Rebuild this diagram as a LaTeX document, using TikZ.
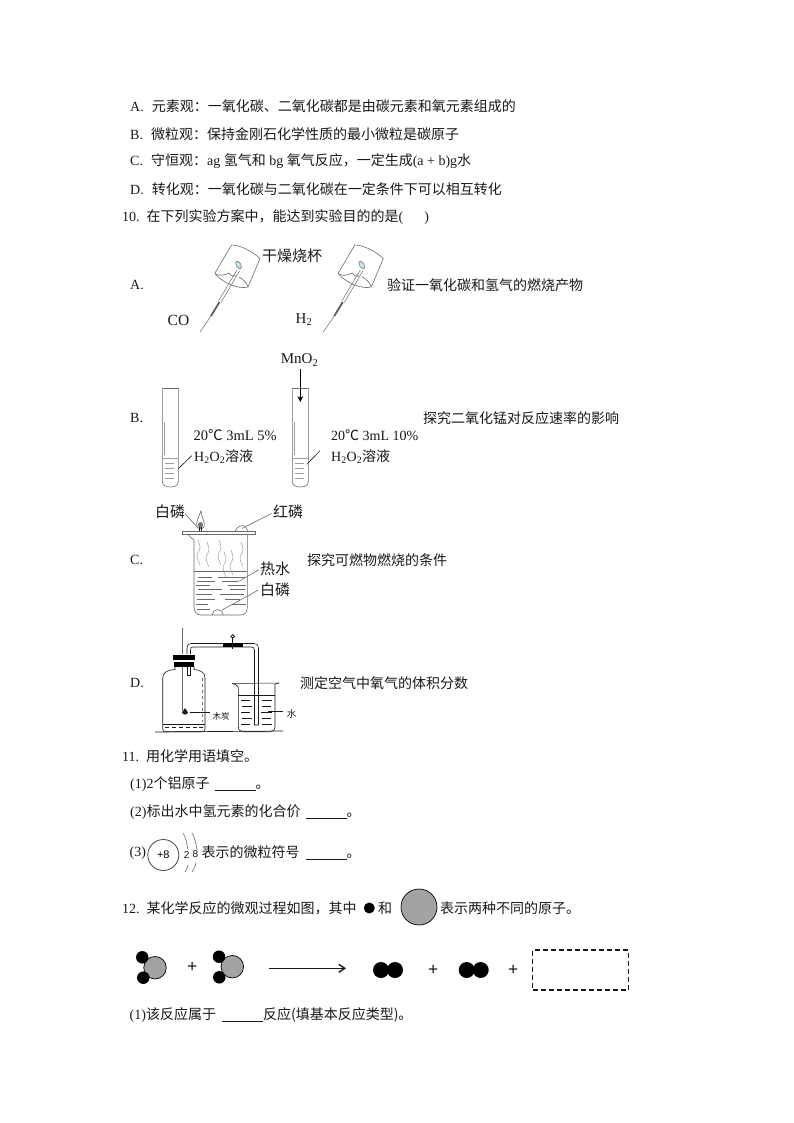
\documentclass[tikz,border=0pt]{standalone}
\usetikzlibrary{arrows.meta}
\usepackage{fontspec}
\setmainfont{Liberation Serif}
\newfontfamily\zhf{Noto Sans CJK SC}
\newcommand{\zh}[1]{{\zhf #1}}
\newcommand{\blank}[1]{\rule[-2.5pt]{#1pt}{0.8pt}}
\definecolor{ink}{gray}{0.1}
\definecolor{ln}{gray}{0.42}
\definecolor{ml}{gray}{0.62}
\definecolor{atom}{gray}{0.64}
\tikzset{
 x=1pt,y=-1pt,
 body/.style={anchor=west,inner sep=0pt,font=\fontsize{14}{14}\selectfont,text=ink},
 lab/.style={anchor=west,inner sep=0pt,font=\fontsize{15}{15}\selectfont,text=ink},
 small/.style={anchor=center,inner sep=0pt,font=\fontsize{8.5}{9}\selectfont,text=ink},
 glass/.style={draw=ln,line width=0.6pt},
 lead/.style={draw=ink,line width=0.6pt},
 blackatom/.style={circle,fill=black,inner sep=0pt},
 grayatom/.style={circle,fill=atom,draw=black,line width=0.7pt,inner sep=0pt},
 plus/.style={inner sep=0pt,font=\fontsize{18}{18}\selectfont\bfseries,text=ink},
}
\newcommand{\cupburner}[1]{%
\begin{scope}[shift={(#1,0)}]
 \draw[glass] (215,273) -- (231.5,245) .. controls (240,245) and (252,251) .. (260,258.5) -- (248,287);
 \draw[glass] (215,273.5) .. controls (218,276) and (224,276) .. (229,273) .. controls (231,276) and (234,277) .. (236,276);
 \draw[glass] (215,273.5) .. controls (220,281) and (238,290) .. (248,287);
 \draw[glass] (248,287) .. controls (247,283) and (243,279) .. (239,277);
 \filldraw[draw=ln,fill=gray!35!cyan!30!white,line width=0.5pt,rotate around={-60:(238.5,265)}] (238.5,265) ellipse (4.2 and 2.3);
 \draw[ln,line width=0.5pt] (237,270) -- (218.5,301);
 \draw[ln,line width=0.5pt] (239.5,271) -- (221,302.5);
 \draw[ink!70,line width=1.8pt] (219.5,302) -- (211,316);
 \draw[ln,line width=0.5pt] (211,316) -- (200,332);
\end{scope}}
\newcommand{\testtube}[1]{%
\begin{scope}[shift={(#1,0)}]
 \draw[glass] (162.3,389.5) -- (162.3,481) .. controls (162.3,485) and (165,487) .. (170.3,487) .. controls (175.6,487) and (178.3,485) .. (178.3,481) -- (178.3,389.5);
 \draw[ln,line width=1pt] (161.5,388.5) -- (179.3,388.5);
 \draw[ml,line width=0.8pt] (164.8,422) -- (164.8,455);
 \draw[ml,line width=0.6pt] (163,458) -- (177.5,458);
 \foreach \yy in {463,468,473,478}{\draw[ml,line width=0.6pt] (165,\yy) -- (174,\yy);}
\end{scope}}
\begin{document}
\begin{tikzpicture}
\useasboundingbox (0,0) rectangle (794,1123);
\fill[white] (0,0) rectangle (794,1123);
% text lines
\node[body] (a1) at (130,106) {A.\hspace{8pt}\zh{元素观：一氧化碳、二氧化碳都是由碳元素和氧元素组成的}};
\node[body] (b1) at (130,134) {B.\hspace{8pt}\zh{微粒观：保持金刚石化学性质的最小微粒是碳原子}};
\node[body] (c1) at (130,161) {C.\hspace{8pt}\zh{守恒观：}ag \zh{氢气和} bg \zh{氧气反应，一定生成}(a + b)g\zh{水}};
\node[body] (d1) at (130,189) {D.\hspace{8pt}\zh{转化观：一氧化碳与二氧化碳在一定条件下可以相互转化}};
\node[body] (q10) at (122,217) {10.\ \ \zh{在下列实验方案中，能达到实验目的的是}(\ \ \ \ \ \ )};
\node[body] (optA) at (130,285) {A.};
\node[body] (txtA) at (387,285) {\zh{验证一氧化碳和氢气的燃烧产物}};
\node[body] (optB) at (130,418) {B.};
\node[body] (txtB) at (423,418) {\zh{探究二氧化锰对反应速率的影响}};
\node[body] (optC) at (130,560) {C.};
\node[body] (txtC) at (307,560) {\zh{探究可燃物燃烧的条件}};
\node[body] (optD) at (130,683) {D.};
\node[body] (txtD) at (300,683) {\zh{测定空气中氧气的体积分数}};
\node[body] (q11) at (122,756) {11.\ \ \zh{用化学用语填空。}};
\node[body] (q111) at (130,784) {(1)2\zh{个铝原子}\hspace{5pt}\blank{41}\zh{。}};
\node[body] (q112) at (130,812) {(2)\zh{标出水中氢元素的化合价}\hspace{5pt}\blank{41}\zh{。}};
\node[body] (q113a) at (129.5,853) {(3)};
\node[body] (q113b) at (201.5,853) {\zh{表示的微粒符号}\hspace{6pt}\blank{41}\zh{。}};
\node[body] (q12a) at (122,908) {12.\ \ \zh{某化学反应的微观过程如图，其中}};
\node[body] (q12b) at (378,908) {\zh{和}};
\node[body] (q12c) at (440,908) {\zh{表示两种不同的原子。}};
\node[body] (q121) at (129.5,1015) {(1)\zh{该反应属于}\hspace{6pt}\blank{41}\zh{反应(填基本反应类型)。}};
% A
\cupburner{0}
\cupburner{123.3}
\node[lab] (cup) at (262,256) {\zh{干燥烧杯}};
\node[lab,font=\fontsize{15.5}{16}\selectfont] (co) at (167.5,320) {CO};
\node[lab] (h2) at (295.5,320) {H\textsubscript{2}};
% B
\testtube{0}
\testtube{130}
\node[lab] (mno) at (280.7,360) {MnO\textsubscript{2}};
\coordinate (arrS) at (300.3,369);
\coordinate (arrE) at (300.3,402);
\draw[-{Stealth[length=6pt,width=6pt]},line width=0.9pt,black] (arrS) -- (arrE);
\node[lab,font=\fontsize{14.5}{15}\selectfont] (c1l) at (193.5,435) {20\zh{℃} 3mL 5\%};
\node[lab,font=\fontsize{14}{15}\selectfont] (s1l) at (194,456.5) {H\textsubscript{2}O\textsubscript{2}\zh{溶液}};
\node[lab,font=\fontsize{14}{15}\selectfont] (c2l) at (331,435) {20\zh{℃} 3mL 10\%};
\node[lab,font=\fontsize{14}{15}\selectfont] (s2l) at (331,456.5) {H\textsubscript{2}O\textsubscript{2}\zh{溶液}};
\draw[lead] (178,469) -- (191.7,455.7);
\draw[lead] (306.7,464.3) -- (320,450.7);
% C
\draw[glass] (182.5,531.5) rectangle (255,534.3);
\draw[glass] (188,534.5) .. controls (190,537) and (192,538) .. (194,540) -- (194,607) .. controls (194,612) and (197,615) .. (201,615) -- (241,615) .. controls (245,615) and (247.3,612) .. (247.3,607) -- (247.3,534.5);
\draw[glass] (194,571.7) -- (247.3,571.7);
\foreach \ya/\xa/\xb in {577/198/212,577/218/245,581/197/215,581/222/238,585/196/210,585/228/246,589/198/222,589/230/245,594/196/212,594/220/244,599/197/215,599/225/240,604/196/208,604/232/246,609/197/210}{\draw[ln,line width=0.5pt] (\xa,\ya) -- (\xb,\ya);}
\draw[ln,line width=0.6pt] (212.2,615) arc[start angle=180,end angle=360,radius=5.5];
\foreach \px/\py in {198/540,207/542,219/540,224/552,231/550,241/542}{
 \draw[ml,line width=0.5pt] plot[smooth] coordinates {(\px,\py) (\px+2,\py+8) (\px-1,\py+16) (\px+2,\py+25)};}
% candle flame
\draw[ln,line width=0.6pt] (201,510.5) .. controls (199,517) and (195.5,522) .. (197,527) .. controls (198,529) and (203,529) .. (204,527) .. controls (205.5,522) and (201.5,518) .. (201,510.5);
\fill[ink!60] (200.5,525) ellipse (2.6 and 3);
\draw[ink,line width=0.8pt] (199.5,531) -- (199.5,527) (201.5,531) -- (201.5,527);
% red P
\draw[ln,line width=0.6pt] (235,531) .. controls (238,526) and (241,525) .. (245,526) -- (248,531);
\node[lab] (wp1) at (155,511.5) {\zh{白磷}};
\node[lab] (rp) at (273,511.5) {\zh{红磷}};
\node[lab] (hw) at (260,569) {\zh{热水}};
\node[lab] (wp2) at (260,590) {\zh{白磷}};
\coordinate (l1) at (185,513.5); \coordinate (l1e) at (197,527);
\coordinate (l2) at (271.5,513.5); \coordinate (l2e) at (242,528.5);
\coordinate (l3) at (258.5,570); \coordinate (l3e) at (238.5,581.5);
\coordinate (l4) at (258.5,590); \coordinate (l4e) at (222,610);
\draw[lead,draw=ln] (l1)--(l1e) (l2)--(l2e) (l3)--(l3e) (l4)--(l4e);
% D bottle
\draw[ink,line width=0.6pt] (175,666.5) -- (175,669.5) .. controls (168,670) and (162.7,672) .. (162.7,678) -- (162.7,729) .. controls (162.7,731) and (164,731.7) .. (166,731.7) -- (202,731.7) .. controls (204,731.7) and (205,731) .. (205,729) -- (205,678) .. controls (205,672) and (200,670) .. (194,669.5) -- (194,666.5);
\draw[ln,line width=0.5pt,dashed] (202.5,678) -- (202.5,722);
\fill[black] (172.5,654.5) rectangle (195,660);
\fill[black] (174,661.7) rectangle (194,667);
\draw[ink,line width=0.5pt] (162.7,724) -- (205,724);
\foreach \xa in {165,172,179,186,193,199}{\draw[ink,line width=0.5pt] (\xa,727.5) -- (\xa+4,727.5);}
\draw[ln,line width=0.6pt] (182.7,628) -- (182.7,654);
\draw[ln,line width=0.6pt] (182.7,667) -- (182.7,711);
\fill[ink] (185,712.5) ellipse (3 and 2);
\fill[ink] (185,708) -- (183,711) -- (187,711) -- cycle;
\draw[ink,line width=0.5pt] (190,712.7) -- (210,712.7);
\node[small] (char) at (221,716.5) {\zh{木炭}};
% D tube
\draw[ink,line width=0.6pt] (187,654) -- (187,648) .. controls (187,645) and (188,643.5) .. (191,643.5) -- (254,643.5) .. controls (257,643.5) and (258.5,645) .. (258.5,648) -- (258.5,725);
\draw[ink,line width=0.6pt] (190.5,654) -- (190.5,650) .. controls (190.5,648) and (191,647) .. (193,647) -- (251,647) .. controls (253,647) and (254.5,648) .. (254.5,650) -- (254.5,725) -- (258.5,725);
\draw[ink,line width=0.6pt] (187,667) -- (187,675) -- (190.5,675) -- (190.5,667);
\fill[black] (223,642.5) rectangle (243,646.5);
\draw[ink,line width=1pt] (232.7,637) -- (232.7,649);
\draw[ink,line width=0.8pt] (232.7,636.5) circle (1.8);
% D beaker
\draw[ink,line width=0.6pt] (232,683.5) .. controls (235,684) and (237,685) .. (238.3,687) -- (238.3,726) .. controls (238.3,730) and (240,731.7) .. (243,731.7) -- (270,731.7) .. controls (273,731.7) and (275,730) .. (275,726) -- (275,684) -- (279,683);
\draw[ink,line width=0.5pt] (232,683.5) -- (279,683);
\draw[ink,line width=0.5pt] (238.3,695) -- (275,695);
\foreach \ya/\xa/\xb in {700/241/250,700/262/272,706/242/252,706/262/271,712/241/250,712/261/272,718/242/252,718/262/271,724/241/250,724/262/272}{\draw[ink,line width=0.5pt] (\xa,\ya) -- (\xb,\ya);}
\draw[ink,line width=0.5pt] (268.3,711) -- (283.3,711);
\node[small,font=\fontsize{9.5}{10}\selectfont] (wat) at (291.7,713.5) {\zh{水}};
\draw[ink,line width=0.7pt] (155,732) -- (283,731);
% atom diagram
\node[circle,draw=ink!80,line width=0.8pt,minimum size=31pt,inner sep=0pt,font=\fontsize{11}{11}\selectfont] (nuc) at (163.3,855) {\fontspec{Liberation Sans}+8};
\node[small,font=\fontsize{10}{10}\selectfont] (s2) at (186.7,855) {\fontspec{Liberation Sans}2};
\node[small,font=\fontsize{10}{10}\selectfont] (s8) at (195.3,854) {\fontspec{Liberation Sans}8};
\draw[ln,line width=0.6pt] (183,833) .. controls (186,838) and (187,844) .. (188,850);
\draw[ln,line width=0.6pt] (192,833) .. controls (195,838) and (196,844) .. (197,850);
\draw[ln,line width=0.6pt] (188,865) .. controls (187.5,867) and (186.5,870) .. (185,872);
\draw[ln,line width=0.6pt] (196,863) .. controls (195.5,866) and (194,869) .. (192,872);
% q12 legend atoms
\node[blackatom,minimum size=11pt] (legb) at (369.3,908) {};
\node[grayatom,minimum size=36pt] (legg) at (419,907) {};
% molecules
\node[grayatom,minimum size=22.5pt] (m1c) at (155,967.7) {};
\node[blackatom,minimum size=12.5pt] (m1a) at (142.3,957.3) {};
\node[blackatom,minimum size=12.5pt] (m1b) at (143.3,977.7) {};
\node[plus] (p1) at (192.3,967.3) {+};
\node[grayatom,minimum size=22.5pt] (m2c) at (232.3,966.7) {};
\node[blackatom,minimum size=12.5pt] (m2a) at (219,956.7) {};
\node[blackatom,minimum size=12.5pt] (m2b) at (219.3,977.3) {};
\coordinate (rs) at (269.3,968.3);
\coordinate (re) at (346,968.3);
\draw[ink,line width=1.4pt,-{Straight Barb[length=6pt,width=8pt]}] (rs) -- (re);
\node[blackatom,minimum size=16pt] (d1a) at (381,970) {};
\node[blackatom,minimum size=16pt] (d1b) at (395,970) {};
\node[plus] (p2) at (433.3,970) {+};
\node[blackatom,minimum size=16pt] (d2a) at (466.7,970) {};
\node[blackatom,minimum size=16pt] (d2b) at (480.7,970) {};
\node[plus] (p3) at (513.3,970) {+};
\node[draw=ink,line width=1.4pt,dash pattern=on 5pt off 3pt,minimum width=95.6pt,minimum height=40pt,inner sep=0pt] (box) at (580.5,970) {};
\end{tikzpicture}
\end{document}
